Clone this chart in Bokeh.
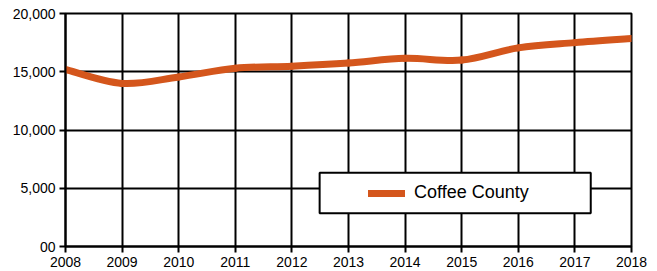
from bokeh.plotting import figure
from bokeh.models import Range1d, FixedTicker, NumeralTickFormatter, Legend, LegendItem, ColumnDataSource, BoxAnnotation
from bokeh.embed import file_html
from bokeh.resources import INLINE

years = [2008, 2009, 2010, 2011, 2012, 2013, 2014, 2015, 2016, 2017, 2018]
coffee_county = [15200, 14000, 14550, 15300, 15480, 15750, 16150, 16000, 17050, 17500, 17850]
y_ticks = [0, 5000, 10000, 15000, 20000]
series_name = "Coffee County"

LINE_COLOR = "#D4561C"
FONT = "Liberation Sans"

p = figure(width=657, height=271, output_backend="svg", toolbar_location=None,
           x_range=Range1d(2008, 2018), y_range=Range1d(0, 20000),
           min_border_left=65, min_border_top=13, min_border_right=26, min_border_bottom=25)
p.background_fill_color = "white"
p.border_fill_color = "white"
p.outline_line_color = "black"
p.outline_line_width = 2

# smooth curve via Catmull-Rom -> cubic bezier segments (rendering of data points)
n = len(years)
x0, y0, x1, y1, cx0, cy0, cx1, cy1 = [], [], [], [], [], [], [], []
for i in range(n - 1):
    xp = years[i - 1] if i > 0 else years[i]
    yp = coffee_county[i - 1] if i > 0 else coffee_county[i]
    xn = years[i + 2] if i + 2 < n else years[i + 1]
    yn = coffee_county[i + 2] if i + 2 < n else coffee_county[i + 1]
    x0.append(years[i]); y0.append(coffee_county[i])
    x1.append(years[i + 1]); y1.append(coffee_county[i + 1])
    cx0.append(years[i] + (years[i + 1] - xp) / 6.0)
    cy0.append(coffee_county[i] + (coffee_county[i + 1] - yp) / 6.0)
    cx1.append(years[i + 1] - (xn - years[i]) / 6.0)
    cy1.append(coffee_county[i + 1] - (yn - coffee_county[i]) / 6.0)
src = ColumnDataSource(dict(x0=x0, y0=y0, x1=x1, y1=y1, cx0=cx0, cy0=cy0, cx1=cx1, cy1=cy1))
curve = p.bezier(x0="x0", y0="y0", x1="x1", y1="y1", cx0="cx0", cy0="cy0", cx1="cx1", cy1="cy1",
                 source=src, line_color=LINE_COLOR, line_width=7, line_cap="round")

# axes styling
for ax in (p.xaxis[0], p.yaxis[0]):
    ax.axis_line_color = "black"
    ax.axis_line_width = 2
    ax.major_tick_line_color = "black"
    ax.major_tick_line_width = 2
    ax.major_tick_out = 6
    ax.major_tick_in = 0
    ax.minor_tick_line_color = None
    ax.major_label_text_font = FONT
    ax.major_label_text_font_size = "14px"
    ax.major_label_text_color = "black"

p.xaxis[0].ticker = FixedTicker(ticks=years)
p.xaxis[0].major_label_overrides = {y: str(y) for y in years}
p.xaxis[0].major_label_standoff = 4
p.yaxis[0].ticker = FixedTicker(ticks=y_ticks)
p.yaxis[0].formatter = NumeralTickFormatter(format="0,0")
p.yaxis[0].major_label_overrides = {0: "00"}
p.yaxis[0].major_label_standoff = 4

p.xgrid[0].ticker = FixedTicker(ticks=years)
p.ygrid[0].ticker = FixedTicker(ticks=y_ticks)
for g in (p.xgrid[0], p.ygrid[0]):
    g.grid_line_color = "black"
    g.grid_line_width = 2
    g.grid_line_alpha = 1

# legend box
box = BoxAnnotation(left=2012.49, right=2017.28, bottom=2850, top=6330,
                    fill_color="white", fill_alpha=1, line_color="black", line_alpha=1,
                    line_width=2, level="glyph")
p.add_layout(box)

legend = Legend(items=[LegendItem(label=series_name, renderers=[curve])],
                location=(303, 43), orientation="horizontal",
                background_fill_alpha=0, border_line_alpha=0,
                padding=0, margin=0, spacing=0,
                glyph_width=37, glyph_height=20, label_standoff=9,
                label_text_font=FONT, label_text_font_size="18px", label_text_color="black",
                label_height=20)
p.add_layout(legend, "center")

open("out.html", "w").write(file_html(p, INLINE))
